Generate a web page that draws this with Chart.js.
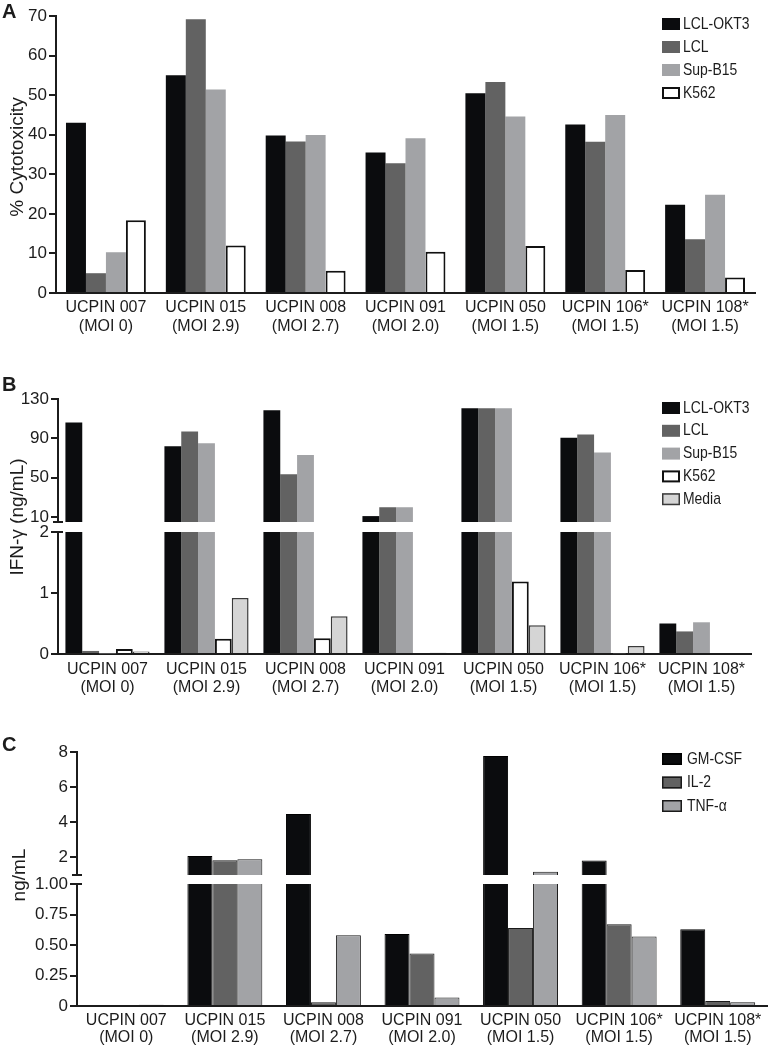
<!DOCTYPE html>
<html>
<head>
<meta charset="utf-8">
<script src="https://cdn.jsdelivr.net/npm/chart.js@4.4.1/dist/chart.umd.min.js"></script>
<style>
  html, body { margin: 0; padding: 0; background: #fff; }
  #page { position: relative; width: 768px; height: 1050px; overflow: hidden;
          font-family: 'Liberation Sans', Arial, sans-serif; color: #1c1c1c; }
  #page canvas { position: absolute; left: 0; }
  .panel { position: absolute; left: 2px; font-weight: bold; font-size: 20px; line-height: 20px; }
  .ytitle { position: absolute; font-size: 19px; white-space: nowrap;
            transform: translate(-50%, -50%) rotate(-90deg); }
</style>
</head>
<body>
<div id="page">
  <canvas id="cA" width="768" height="345" style="top:0px"></canvas>
  <canvas id="cBu" width="768" height="165" style="top:380px"></canvas>
  <canvas id="cBl" width="768" height="200" style="top:510px"></canvas>
  <canvas id="cCu" width="768" height="170" style="top:730px"></canvas>
  <canvas id="cCl" width="768" height="188" style="top:862px"></canvas>

  <div class="panel" style="top:1px">A</div>
  <div class="panel" style="top:374px">B</div>
  <div class="panel" style="top:734px">C</div>
  <div class="ytitle" style="left:17px; top:157px">% Cytotoxicity</div>
  <div class="ytitle" style="left:17px; top:517px">IFN-γ (ng/mL)</div>
  <div class="ytitle" style="left:19px; top:875px">ng/mL</div>
</div>

<script>
// categories
const groups = ['UCPIN 007', 'UCPIN 015', 'UCPIN 008', 'UCPIN 091', 'UCPIN 050', 'UCPIN 106*', 'UCPIN 108*'];
const moi = ['(MOI 0)', '(MOI 2.9)', '(MOI 2.7)', '(MOI 2.0)', '(MOI 1.5)', '(MOI 1.5)', '(MOI 1.5)'];

// A: % cytotoxicity
const okt3A  = [43.0, 55.0, 39.8, 35.5, 50.5, 42.6, 22.3];
const lclA   = [5.0, 69.2, 38.3, 32.8, 53.3, 38.2, 13.6];
const supA   = [10.3, 51.4, 39.9, 39.1, 44.6, 45.0, 24.8];
const k562A  = [18.4, 12.0, 5.6, 10.4, 11.9, 5.8, 3.9];

// B: IFN-gamma (ng/mL)
const okt3B  = [106, 82, 118.5, 11, 120.5, 90.7, 0.50];
const lclB   = [0.05, 97, 53.4, 20, 120.5, 94, 0.37];
const supB   = [0.01, 85, 73, 20, 120.5, 75.6, 0.52];
const k562B  = [0.08, 0.25, 0.26, 0, 1.19, 0.01, 0];
const mediaB = [0.04, 0.92, 0.62, 0.02, 0.47, 0.13, 0];

// C: cytokines (ng/mL)
const gmcsfC = [0, 2.08, 4.47, 0.59, 7.77, 1.83, 0.63];
const il2C   = [0, 1.84, 0.03, 0.43, 0.64, 0.67, 0.04];
const tnfC   = [0.01, 1.89, 0.58, 0.07, 1.19, 0.57, 0.03];

// tick labels
const ticksBUpper = [10, 50, 90, 130];
const ticksCUpper = [2, 4, 6, 8];

const INK = '#1c1c1c';
const BLACK = '#0b0c0e', DARK = '#626262', LIGHT = '#a2a3a6', MEDIA = '#d5d5d5';

Chart.defaults.font.family = "'Liberation Sans', Arial, sans-serif";
Chart.defaults.color = INK;

const twoLine = groups.map((g, i) => [g, moi[i]]);

function bar(label, data, bg, border, bw) {
    return {
        label: label,
        data: data,
        backgroundColor: bg,
        borderColor: border || bg,
        borderWidth: bw || 0,
        borderSkipped: 'start',
        clip: 0
    };
}

// legend drawn inside the plot, top right (condensed text like the original)
const boxLegend = {
    id: 'boxLegend',
    afterDraw(chart, args, o) {
        if (o.x == null) return;
        const ctx = chart.ctx;
        ctx.save();
        ctx.font = o.font;
        ctx.textBaseline = 'middle';
        chart.data.datasets.forEach((ds, i) => {
            const y = o.y + i * o.gap;
            ctx.fillStyle = ds.backgroundColor;
            ctx.fillRect(o.x, y - o.h / 2, o.w, o.h);
            const bw = ds.borderWidth ? Math.max(ds.borderWidth, 1.5) : 0;
            if (bw) {
                ctx.lineWidth = bw;
                ctx.strokeStyle = ds.borderColor;
                ctx.strokeRect(o.x + bw / 2, y - o.h / 2 + bw / 2, o.w - bw, o.h - bw);
            }
            ctx.save();
            ctx.translate(o.x + o.textGap, y);
            ctx.scale(0.82, 1);
            ctx.fillStyle = INK;
            ctx.fillText(ds.label, 0, 0);
            ctx.restore();
        });
        ctx.restore();
    }
};

// little caps where the y axis is broken
const axisBreak = {
    id: 'axisBreak',
    afterDraw(chart, args, o) {
        if (!o.edge) return;
        const ctx = chart.ctx, a = chart.chartArea;
        const y = o.edge === 'bottom' ? a.bottom : a.top;
        ctx.save();
        ctx.strokeStyle = INK;
        ctx.lineWidth = 2;
        ctx.beginPath();
        ctx.moveTo(a.left - 5, y);
        ctx.lineTo(a.left + 5, y);
        ctx.stroke();
        ctx.restore();
    }
};

function xAxis(show, pad, lh) {
    return {
        type: 'category',
        display: show,
        offset: true,
        grid: { display: false, drawTicks: false },
        border: { display: true, color: INK, width: 2 },
        ticks: { color: INK, padding: pad, autoSkip: false, maxRotation: 0, font: { size: 16, lineHeight: lh } }
    };
}

function yAxis(min, max, width, ticks) {
    return {
        min: min,
        max: max,
        afterFit: s => { s.width = width; },
        border: { display: true, color: INK, width: 2 },
        grid: { display: true, drawOnChartArea: false, drawTicks: true, tickLength: 7, color: INK, lineWidth: 2 },
        ticks: Object.assign({ color: INK, padding: 2, font: { size: 17 } }, ticks)
    };
}

function make(id, labels, datasets, cat, xs, ys, padding, plug) {
    return new Chart(document.getElementById(id), {
        type: 'bar',
        data: { labels: labels, datasets: datasets },
        options: {
            responsive: false,
            animation: false,
            layout: { padding: padding },
            datasets: { bar: { categoryPercentage: cat, barPercentage: 1 } },
            scales: { x: xs, y: ys },
            plugins: Object.assign({ legend: { display: false }, tooltip: { enabled: false } }, plug)
        },
        plugins: [boxLegend, axisBreak]
    });
}

const legendFont = "17px 'Liberation Sans', Arial, sans-serif";

// ---- A ----
const dsA = [
    bar('LCL-OKT3', okt3A, BLACK),
    bar('LCL', lclA, DARK),
    bar('Sup-B15', supA, LIGHT),
    bar('K562', k562A, '#ffffff', '#111111', 2)
];
const xA = xAxis(true, 5, 1.2);
xA.afterFit = s => { s.height = 52; };
make('cA', twoLine, dsA, 0.8, xA, yAxis(0, 70, 56, { stepSize: 10 }),
    { top: 16, right: 13, bottom: 0, left: 0 },
    { boxLegend: { x: 662, y: 24, gap: 23, w: 18, h: 12, textGap: 21, font: legendFont } });

// ---- B ----
function dsB() {
    return [
        bar('LCL-OKT3', okt3B, BLACK),
        bar('LCL', lclB, DARK),
        bar('Sup-B15', supB, LIGHT),
        bar('K562', k562B, '#ffffff', '#111111', 2),
        bar('Media', mediaB, MEDIA, '#3a3a3a', 1.5)
    ];
}
const yBu = yAxis(5, 130, 58);
yBu.afterBuildTicks = s => { s.ticks = ticksBUpper.map(v => ({ value: v })); };
make('cBu', twoLine, dsB(), 0.85, xAxis(false, 0, 1), yBu,
    { top: 19, right: 17, bottom: 23, left: 0 },
    { boxLegend: { x: 662, y: 28, gap: 22.8, w: 18, h: 12, textGap: 21, font: legendFont },
      axisBreak: { edge: 'bottom' } });

const xBl = xAxis(true, 7, 1.125);
xBl.afterFit = s => { s.height = 56; };
make('cBl', twoLine, dsB(), 0.85, xBl, yAxis(0, 2, 58, { stepSize: 1 }),
    { top: 22, right: 17, bottom: 0, left: 0 },
    { axisBreak: { edge: 'top' } });

// ---- C ----
function dsC() {
    return [
        bar('GM-CSF', gmcsfC, BLACK, '#000000', 1),
        bar('IL-2', il2C, DARK, '#1a1a1a', 1),
        bar('TNF-α', tnfC, LIGHT, '#1a1a1a', 1)
    ];
}
const yCu = yAxis(1, 8, 77);
yCu.afterBuildTicks = s => { s.ticks = ticksCUpper.map(v => ({ value: v })); };
make('cCu', twoLine, dsC(), 0.76, xAxis(false, 0, 1), yCu,
    { top: 22, right: 1, bottom: 25, left: 0 },
    { boxLegend: { x: 662, y: 29, gap: 23.5, w: 20, h: 12, textGap: 25, font: legendFont },
      axisBreak: { edge: 'bottom' } });

const xCl = xAxis(true, 6, 1.06);
xCl.afterFit = s => { s.height = 44; };
make('cCl', twoLine, dsC(), 0.76, xCl,
    yAxis(0, 1, 77, { stepSize: 0.25, callback: v => v === 0 ? '0' : v.toFixed(2) }),
    { top: 22, right: 1, bottom: 0, left: 0 },
    { axisBreak: { edge: 'top' } });
</script>
</body>
</html>
